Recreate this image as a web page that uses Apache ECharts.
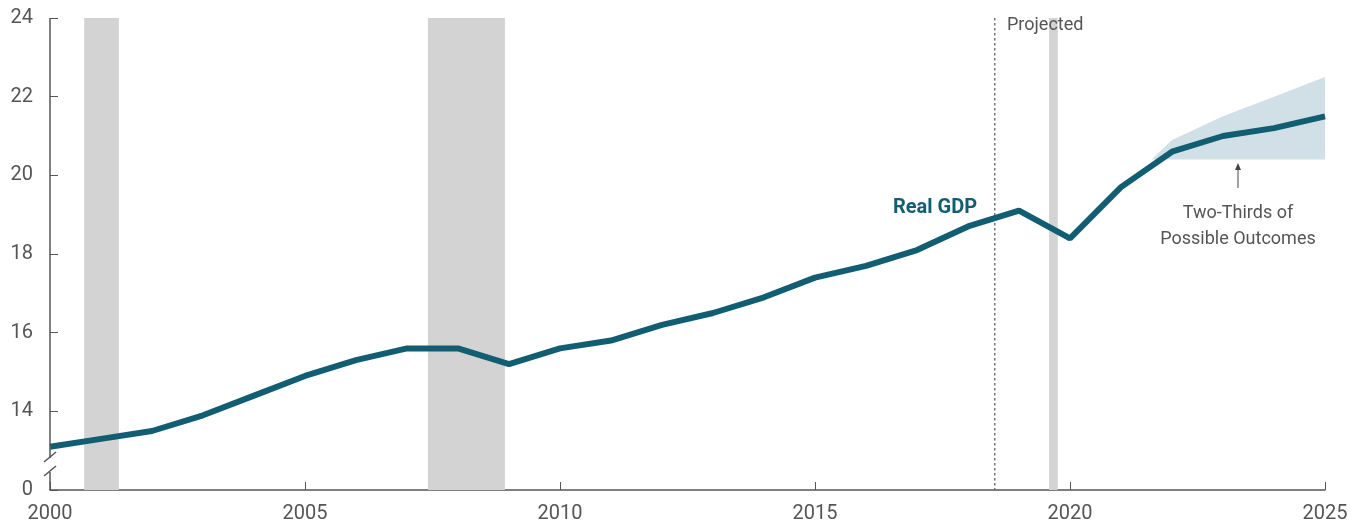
<!DOCTYPE html>
<html>
<head>
<meta charset="utf-8">
<script src="https://cdn.jsdelivr.net/npm/echarts@6/dist/echarts.min.js"></script>
<style>
  html, body { margin: 0; padding: 0; background: #fff; }
  #chart { width: 1366px; height: 529px; }
</style>
</head>
<body>
<div id="chart"></div>
<script>
var years = [2000, 2001, 2002, 2003, 2004, 2005, 2006, 2007, 2008, 2009, 2010, 2011, 2012,
             2013, 2014, 2015, 2016, 2017, 2018, 2019, 2020, 2021, 2022, 2023, 2024, 2025];
var realGdp = [13.1, 13.3, 13.5, 13.9, 14.4, 14.9, 15.3, 15.6, 15.6, 15.2, 15.6, 15.8, 16.2,
               16.5, 16.9, 17.4, 17.7, 18.1, 18.7, 19.1, 18.4, 19.7, 20.6, 21.0, 21.2, 21.5];

// range of possible outcomes
var bandYears = [2021.6, 2022, 2023, 2024, 2025];
var bandLow = [20.4, 20.4, 20.4, 20.4, 20.4];
var bandHigh = [20.4, 20.9, 21.5, 22.0, 22.5];

// recessions
var recessions = [[2000.67, 2001.35], [2007.41, 2008.92], [2019.59, 2019.76]];
var projectedStart = [2018.51];

var textColor = '#555555';
var lineColor = '#115e72';
var font = 'Roboto';

var chart = echarts.init(document.getElementById('chart'));

var gdpData = years.map(function (y, i) { return [y, realGdp[i]]; });
var bandData = bandYears.map(function (y, i) { return [y, bandLow[i], bandHigh[i]]; });

function renderBand(params, api) {
  if (params.dataIndex !== 0) return;
  var upper = [], lower = [];
  for (var i = 0; i < bandData.length; i++) {
    upper.push(api.coord([bandData[i][0], bandData[i][2]]));
    lower.unshift(api.coord([bandData[i][0], bandData[i][1]]));
  }
  return {
    type: 'polygon',
    shape: { points: upper.concat(lower) },
    style: { fill: '#d1e0e6' },
    silent: true
  };
}

// dotted divider, made of short dashes
function renderDivider(params, api) {
  var top = api.coord([api.value(0), 24]);
  var bot = api.coord([api.value(0), 12]);
  var x = Math.round(top[0]);
  var dots = [];
  for (var y = top[1]; y < bot[1]; y += 5) {
    dots.push({
      type: 'rect',
      shape: { x: x, y: y, width: 1.5, height: 2.5 },
      style: { fill: '#777777' }
    });
  }
  return { type: 'group', children: dots, silent: true };
}

var option = {
  animation: false,
  grid: { left: 50, right: 41, top: 18, bottom: 39 },
  xAxis: {
    type: 'value',
    min: 2000,
    max: 2025,
    interval: 5,
    axisLine: { show: true, lineStyle: { color: textColor, width: 1.5 } },
    axisTick: { show: true, inside: true, length: 8, lineStyle: { color: textColor } },
    axisLabel: { color: textColor, fontFamily: font, fontSize: 20, margin: 14,
                 formatter: function (v) { return String(v); } },
    splitLine: { show: false }
  },
  yAxis: {
    type: 'value',
    min: 12,
    max: 24,
    interval: 2,
    axisLine: { show: false },
    axisTick: { show: true, inside: true, length: 8, lineStyle: { color: textColor } },
    axisLabel: { color: textColor, fontFamily: font, fontSize: 20, margin: 17,
                 formatter: function (v) { return v === 12 ? '0' : String(v); } },
    splitLine: { show: false }
  },
  series: [
    {
      type: 'custom',
      name: 'range',
      data: bandData,
      renderItem: renderBand,
      encode: { x: 0, y: [1, 2] },
      silent: true,
      z: 2
    },
    {
      type: 'custom',
      name: 'projected',
      data: projectedStart.map(function (v) { return [v, 24]; }),
      renderItem: renderDivider,
      encode: { x: 0, y: 1 },
      clip: false,
      silent: true,
      z: 3
    },
    {
      type: 'line',
      name: 'Real GDP',
      data: gdpData,
      symbol: 'none',
      lineStyle: { color: lineColor, width: 6 },
      z: 5,
      markArea: {
        silent: true,
        itemStyle: { color: '#d3d3d3' },
        data: recessions.map(function (r) { return [{ xAxis: r[0] }, { xAxis: r[1] }]; })
      }
    }
  ]
};
chart.setOption(option);

// broken left axis drawn from the axis scale
var x0 = chart.convertToPixel({ gridIndex: 0 }, [2000, 12])[0];
var yTop = chart.convertToPixel({ gridIndex: 0 }, [2000, 24])[1];
var yBot = chart.convertToPixel({ gridIndex: 0 }, [2000, 12])[1];
var gapTop = yBot - 32, gapBot = yBot - 18;
var axisStroke = { stroke: textColor, lineWidth: 1.5 };

chart.setOption({
  graphic: [
    { type: 'line', shape: { x1: x0, y1: yTop, x2: x0, y2: gapTop }, style: axisStroke, z: 10 },
    { type: 'line', shape: { x1: x0, y1: gapBot, x2: x0, y2: yBot }, style: axisStroke, z: 10 },
    { type: 'line', shape: { x1: x0 - 6, y1: gapTop + 4, x2: x0 + 6, y2: gapTop - 6 }, style: axisStroke, z: 10 },
    { type: 'line', shape: { x1: x0 - 6, y1: gapBot + 4, x2: x0 + 6, y2: gapBot - 6 }, style: axisStroke, z: 10 },
    { type: 'text', left: 1007, top: 16, z: 100,
      style: { text: 'Projected', fill: textColor, font: '18px ' + font } },
    { type: 'text', left: 893, top: 198, z: 100,
      style: { text: 'Real GDP', fill: lineColor, font: 'bold 20px ' + font } },
    { type: 'line', shape: { x1: 1238, y1: 188, x2: 1238, y2: 166 },
      style: { stroke: '#444', lineWidth: 1 }, z: 100 },
    { type: 'polygon', shape: { points: [[1235, 170], [1241, 170], [1238, 163]] },
      style: { fill: '#444' }, z: 100 },
    { type: 'text', x: 1238, y: 200, z: 100,
      style: { text: 'Two-Thirds of\nPossible Outcomes', fill: textColor, font: '18px ' + font,
               align: 'center', verticalAlign: 'top', lineHeight: 26 } }
  ]
});
</script>
</body>
</html>
